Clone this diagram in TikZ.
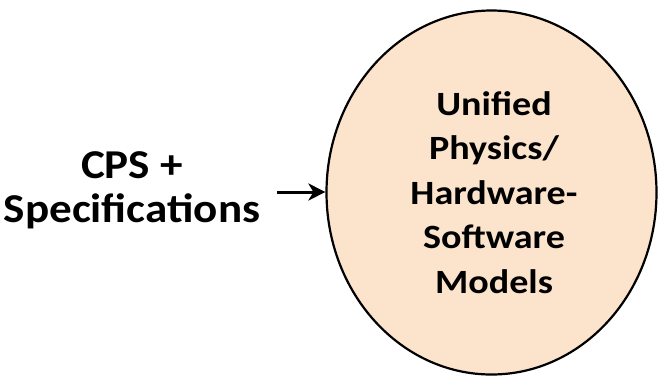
\documentclass[tikz,border=0pt]{standalone}
\usepackage{fontspec}
\setmainfont{Carlito}
\usetikzlibrary{arrows.meta,shapes.geometric}
\definecolor{peach}{RGB}{252,228,204}
\tikzset{
  lbl/.style={font=\bfseries\fontsize{41}{43.5}\selectfont, align=center,
    inner sep=0pt, xscale=1.10},
  inlbl/.style={font=\bfseries\fontsize{34}{44.5}\selectfont, align=center,
    inner sep=0pt, xscale=1.12},
  model/.style={ellipse, draw=black, line width=2.2pt, fill=peach, inner sep=0pt,
    minimum width=330pt, minimum height=364pt},
  feed/.style={line width=3pt, -{Stealth[length=17pt,width=17pt,inset=5pt]}}
}
\begin{document}
\begin{tikzpicture}[x=1pt,y=-1pt]
  \useasboundingbox (0,0) rectangle (658,376);
  % the model bubble
  \node[model] (m) at (491.5,192.5) {};
  \node[inlbl, anchor=base] (t) at (494,293)
    {Unified\\Physics/\\Hardware-\\Software\\Models};
  % input text and arrow
  \node[lbl, anchor=base] (in) at (132,222) {CPS +\\Specifications};
  \coordinate (s) at (277,192);
  \draw[feed] (s) -- (m.west |- s);
\end{tikzpicture}
\end{document}
